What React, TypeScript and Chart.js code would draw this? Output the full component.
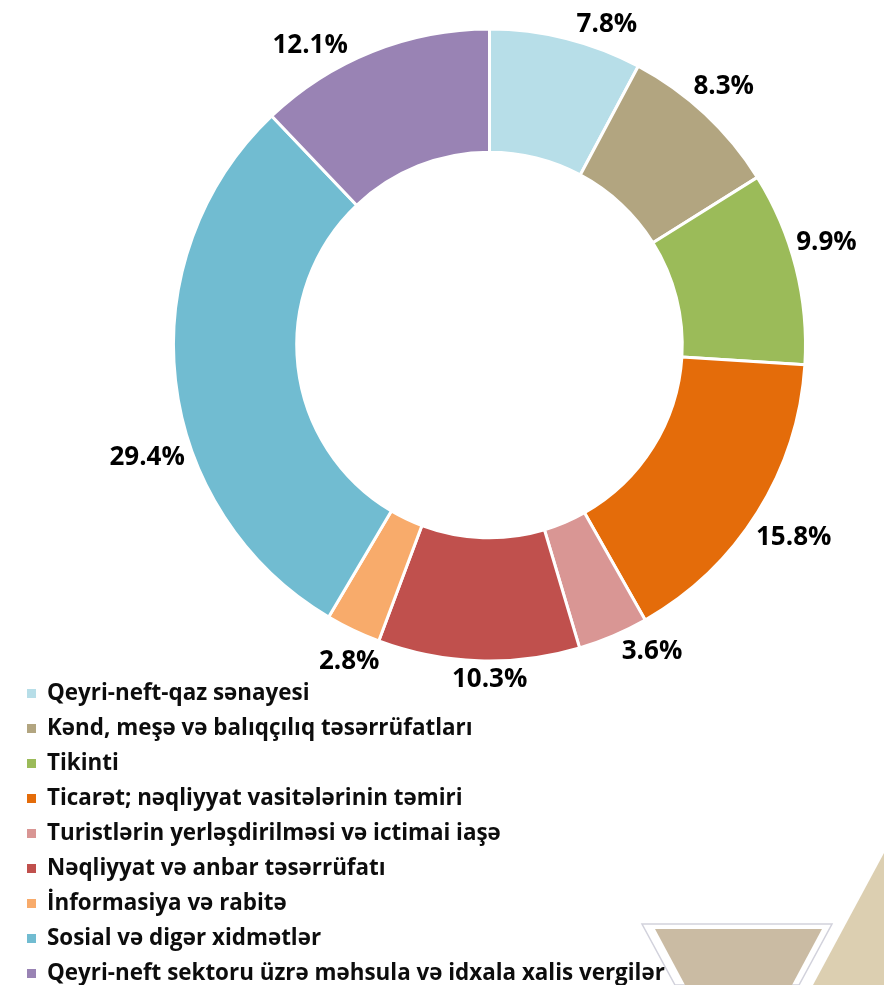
import React, { useEffect, useRef } from 'react';
import { Chart, registerables } from 'chart.js';

Chart.register(...registerables);

const categories = [
  'Qeyri-neft-qaz sənayesi',
  'Kənd, meşə və balıqçılıq təsərrüfatları',
  'Tikinti',
  'Ticarət; nəqliyyat vasitələrinin təmiri',
  'Turistlərin yerləşdirilməsi və ictimai iaşə',
  'Nəqliyyat və anbar təsərrüfatı',
  'İnformasiya və rabitə',
  'Sosial və digər xidmətlər',
  'Qeyri-neft sektoru üzrə məhsula və idxala xalis vergilər',
];

const shares = [7.8, 8.3, 9.9, 15.8, 3.6, 10.3, 2.8, 29.4, 12.1];

const colors = [
  '#B7DEE8',
  '#B2A580',
  '#9BBB59',
  '#E46C0A',
  '#D99694',
  '#C0504D',
  '#F8AB6B',
  '#71BCD1',
  '#9983B4',
];

// small angular nudges (degrees) for the outside value labels
const labelAngleShift = [6, -1, -3, 0, -5, -2, -1.5, -11.5, -9];

const LABEL_FONT = 'bold 26px "Open Sans", "Noto Sans", sans-serif';
const LEGEND_FONT = 'bold 22.4px "Open Sans", "Noto Sans", sans-serif';

const decorPlugin = {
  id: 'decor',
  beforeDraw(chart: any) {
    const ctx = chart.ctx as CanvasRenderingContext2D;
    ctx.save();
    ctx.fillStyle = '#ffffff';
    ctx.fillRect(0, 0, chart.width, chart.height);
    // large beige triangle at the right
    ctx.beginPath();
    ctx.moveTo(884, 853);
    ctx.lineTo(884, 985);
    ctx.lineTo(813, 985);
    ctx.closePath();
    ctx.fillStyle = '#DCCFB1';
    ctx.fill();
    // inverted trapezoid with outline
    ctx.beginPath();
    ctx.moveTo(642, 924);
    ctx.lineTo(832, 924);
    ctx.lineTo(799, 985);
    ctx.lineTo(675, 985);
    ctx.closePath();
    ctx.fillStyle = '#ffffff';
    ctx.fill();
    ctx.strokeStyle = '#D2D2DC';
    ctx.lineWidth = 1.5;
    ctx.stroke();
    ctx.beginPath();
    ctx.moveTo(655, 929);
    ctx.lineTo(822, 929);
    ctx.lineTo(792, 985);
    ctx.lineTo(685, 985);
    ctx.closePath();
    ctx.fillStyle = '#CABBA3';
    ctx.fill();
    ctx.restore();
  },
};

const outsideLabelsPlugin = {
  id: 'outsideLabels',
  afterDatasetsDraw(chart: any) {
    const ctx = chart.ctx as CanvasRenderingContext2D;
    const meta = chart.getDatasetMeta(0);
    const data = chart.data.datasets[0].data as number[];
    ctx.save();
    ctx.font = LABEL_FONT;
    ctx.fillStyle = '#000000';
    ctx.textAlign = 'center';
    ctx.textBaseline = 'alphabetic';
    meta.data.forEach((arc: any, i: number) => {
      const p = arc.getProps(['x', 'y', 'startAngle', 'endAngle', 'outerRadius'], true);
      const text = data[i].toFixed(1) + '%';
      const mid = (p.startAngle + p.endAngle) / 2 + (labelAngleShift[i] * Math.PI) / 180;
      const w = ctx.measureText(text).width;
      const h = 26;
      const d = 4 + 0.5 * w * Math.abs(Math.cos(mid)) + 0.5 * h * Math.abs(Math.sin(mid));
      const r = p.outerRadius + d;
      const cx = p.x + r * Math.cos(mid);
      const cy = p.y + r * Math.sin(mid);
      ctx.fillText(text, cx, cy + 26 * 0.357);
    });
    ctx.restore();
  },
};

const legendPlugin = {
  id: 'customLegend',
  afterDraw(chart: any) {
    const ctx = chart.ctx as CanvasRenderingContext2D;
    const labels = chart.data.labels as string[];
    const bg = chart.data.datasets[0].backgroundColor as string[];
    ctx.save();
    ctx.font = LEGEND_FONT;
    ctx.textAlign = 'left';
    ctx.textBaseline = 'alphabetic';
    labels.forEach((lab, i) => {
      const base = 700 + 35 * i;
      ctx.fillStyle = bg[i];
      ctx.fillRect(27, base - 11, 9, 9);
      ctx.fillStyle = '#0d0d0d';
      ctx.fillText(lab, 47, base);
    });
    ctx.restore();
  },
};

export default function App() {
  const ref = useRef<HTMLCanvasElement | null>(null);

  useEffect(() => {
    if (!ref.current) return;
    const chart = new Chart(ref.current, {
      type: 'doughnut',
      data: {
        labels: categories,
        datasets: [
          {
            data: shares,
            backgroundColor: colors,
            borderColor: '#ffffff',
            borderWidth: 3,
            hoverOffset: 0,
          },
        ],
      },
      options: {
        responsive: false,
        animation: false,
        cutout: '61%',
        layout: {
          padding: { left: 172, right: 77, top: 27.5, bottom: 322.5 },
        },
        plugins: {
          legend: { display: false },
          tooltip: { enabled: false },
          title: { display: false },
        },
      },
      plugins: [decorPlugin, outsideLabelsPlugin, legendPlugin],
    });
    return () => chart.destroy();
  }, []);

  return (
    <div style={{ position: 'fixed', left: 0, top: 0, width: 884, height: 985, background: '#fff' }}>
      <canvas ref={ref} width={884} height={985} style={{ width: 884, height: 985, display: 'block' }} />
    </div>
  );
}
